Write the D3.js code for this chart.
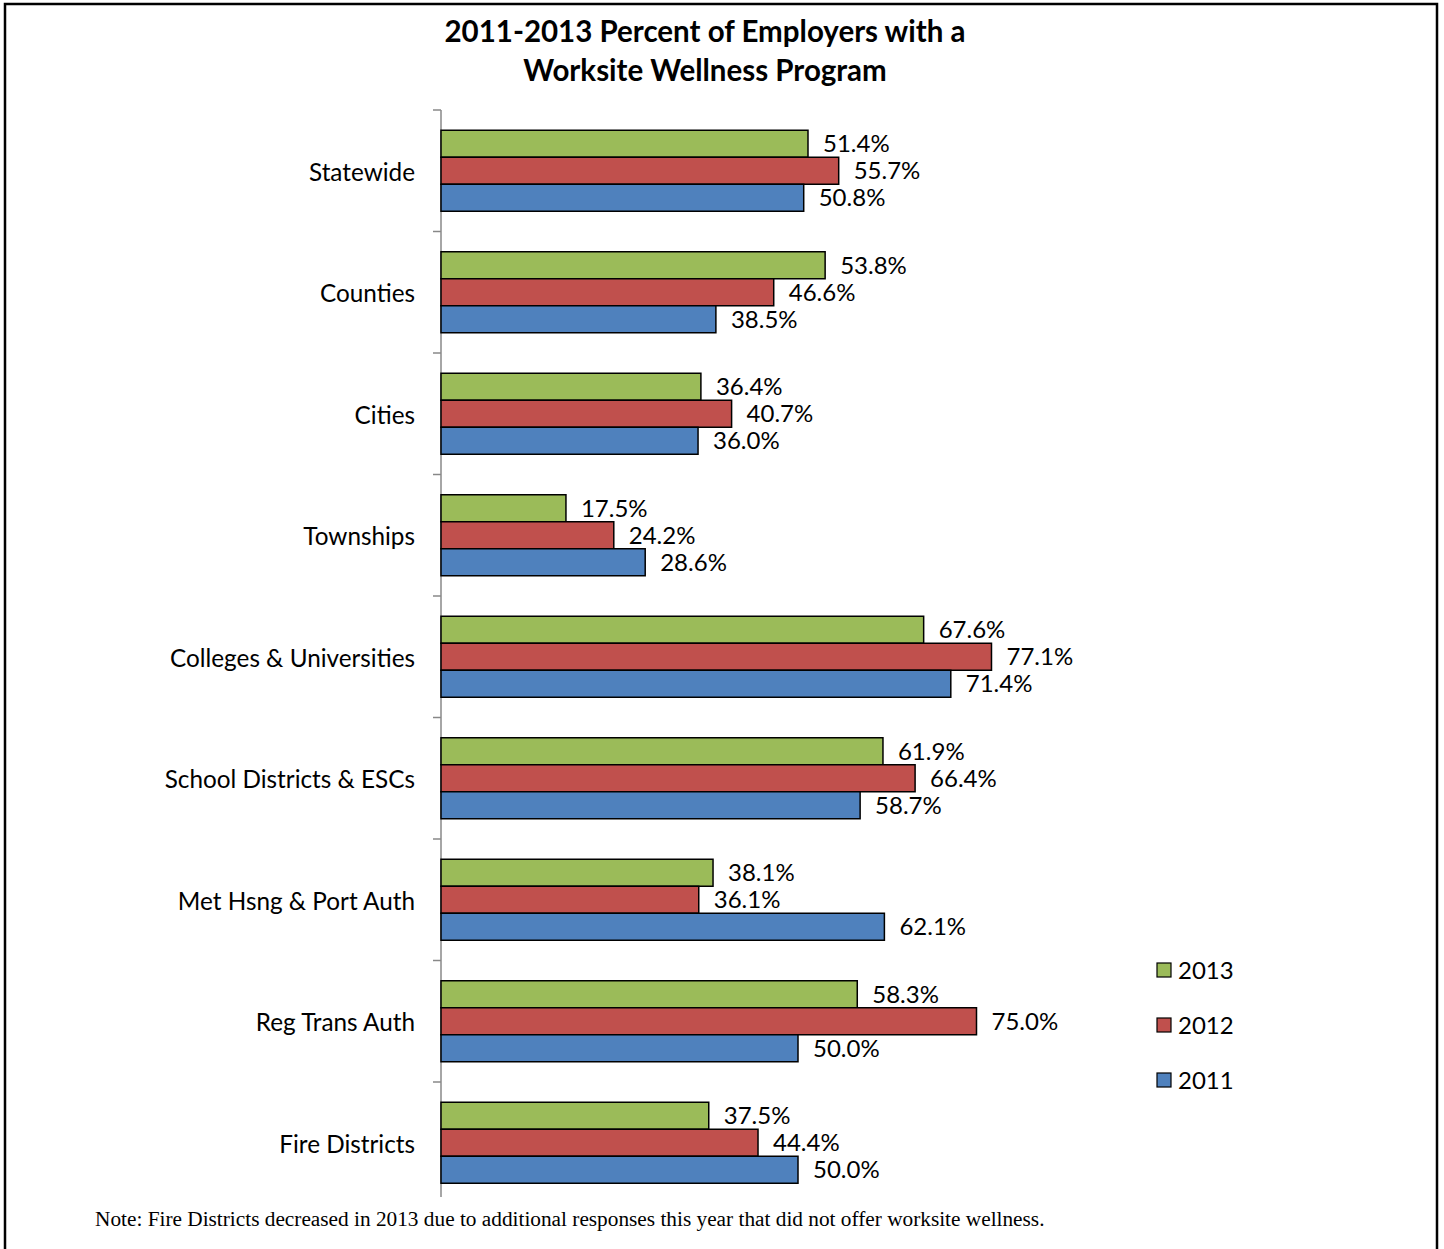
<!DOCTYPE html>
<html>
<head>
<meta charset="utf-8">
<script src="https://cdn.jsdelivr.net/npm/d3@7"></script>
<style>
  body { margin: 0; background: #fff; }
  svg { display: block; }
</style>
</head>
<body>
<svg id="chart"></svg>
<script>
// Chart data
const categories = ['Statewide', 'Counties', 'Cities', 'Townships', 'Colleges & Universities',
  'School Districts & ESCs', 'Met Hsng & Port Auth', 'Reg Trans Auth', 'Fire Districts'];
const years = ['2013', '2012', '2011'];
const values2013 = [51.4, 53.8, 36.4, 17.5, 67.6, 61.9, 38.1, 58.3, 37.5];
const values2012 = [55.7, 46.6, 40.7, 24.2, 77.1, 66.4, 36.1, 75.0, 44.4];
const values2011 = [50.8, 38.5, 36.0, 28.6, 71.4, 58.7, 62.1, 50.0, 50.0];
const colors = ['#9BBB59', '#C0504D', '#4F81BD'];

const seriesValues = [values2013, values2012, values2011];

const W = 1444, H = 1249;
const font = 'Lato, "Open Sans", sans-serif';
const svg = d3.select('#chart').attr('width', W).attr('height', H);

// Outer frame (no bottom edge visible)
svg.append('path')
  .attr('d', `M5,${H} L5,4 L1437,4 L1437,${H}`)
  .attr('fill', 'none').attr('stroke', '#000').attr('stroke-width', 2.5);

// Title
const title = svg.append('text')
  .attr('text-anchor', 'middle')
  .attr('font-family', font)
  .attr('font-weight', 'bold')
  .attr('font-size', 29.5);
title.append('tspan').attr('x', 705).attr('y', 42).text('2011-2013 Percent of Employers with a');
title.append('tspan').attr('x', 705).attr('y', 81).text('Worksite Wellness Program');

// Scales
const xScale = d3.scaleLinear().domain([0, 100]).range([441, 1155]);
const yScale = d3.scaleBand().domain(categories).range([110, 1203.5]).paddingInner(0).paddingOuter(0);
const inner = d3.scaleBand().domain(years).range([0, yScale.bandwidth()]).paddingOuter(0.75).paddingInner(0);

// Y axis
const yAxis = d3.axisLeft(yScale).tickSize(0).tickPadding(26);
const gy = svg.append('g').attr('transform', `translate(${xScale(0)},0)`).call(yAxis);
gy.select('.domain').remove();
gy.selectAll('text')
  .attr('dy', '0.42em')
  .attr('font-family', font)
  .attr('font-size', 24.3)
  .attr('fill', '#000');

// Axis line and category separator ticks
svg.append('line')
  .attr('x1', xScale(0)).attr('x2', xScale(0))
  .attr('y1', 110).attr('y2', 1197)
  .attr('stroke', '#888').attr('stroke-width', 1.5);
const tickYs = categories.map(c => yScale(c));
svg.selectAll('.sep')
  .data(tickYs)
  .enter()
  .append('line')
  .attr('x1', xScale(0) - 8).attr('x2', xScale(0))
  .attr('y1', d => d).attr('y2', d => d)
  .attr('stroke', '#888').attr('stroke-width', 1.5);

// Bars
const rows = [];
categories.forEach((c, i) => {
  years.forEach((y, j) => rows.push({ cat: c, year: y, value: seriesValues[j][i], color: colors[j] }));
});

const bars = svg.append('g');
bars.selectAll('rect')
  .data(rows)
  .enter()
  .append('rect')
  .attr('x', xScale(0))
  .attr('y', d => yScale(d.cat) + inner(d.year))
  .attr('width', d => xScale(d.value) - xScale(0))
  .attr('height', inner.bandwidth())
  .attr('fill', d => d.color)
  .attr('stroke', '#000')
  .attr('stroke-width', 1.5);

bars.selectAll('text')
  .data(rows)
  .enter()
  .append('text')
  .attr('x', d => xScale(d.value) + 15)
  .attr('y', d => yScale(d.cat) + inner(d.year) + inner.bandwidth() / 2)
  .attr('dy', '0.36em')
  .attr('font-family', font)
  .attr('font-size', 24)
  .attr('fill', '#000')
  .text(d => d.value.toFixed(1) + '%');

// Legend
const legend = svg.append('g');
years.forEach((y, j) => {
  const ly = 970 + j * 55;
  legend.append('rect')
    .attr('x', 1157).attr('y', ly - 7)
    .attr('width', 14).attr('height', 14)
    .attr('fill', colors[j]).attr('stroke', '#000').attr('stroke-width', 1.2);
  legend.append('text')
    .attr('x', 1178).attr('y', ly).attr('dy', '0.36em')
    .attr('font-family', font)
    .attr('font-size', 24)
    .text(y);
});

// Footnote
svg.append('text')
  .attr('x', 95).attr('y', 1226)
  .attr('font-family', '"Liberation Serif", "Times New Roman", serif')
  .attr('font-size', 21.3)
  .text('Note: Fire Districts decreased in 2013 due to additional responses this year that did not offer worksite wellness.');
</script>
</body>
</html>
